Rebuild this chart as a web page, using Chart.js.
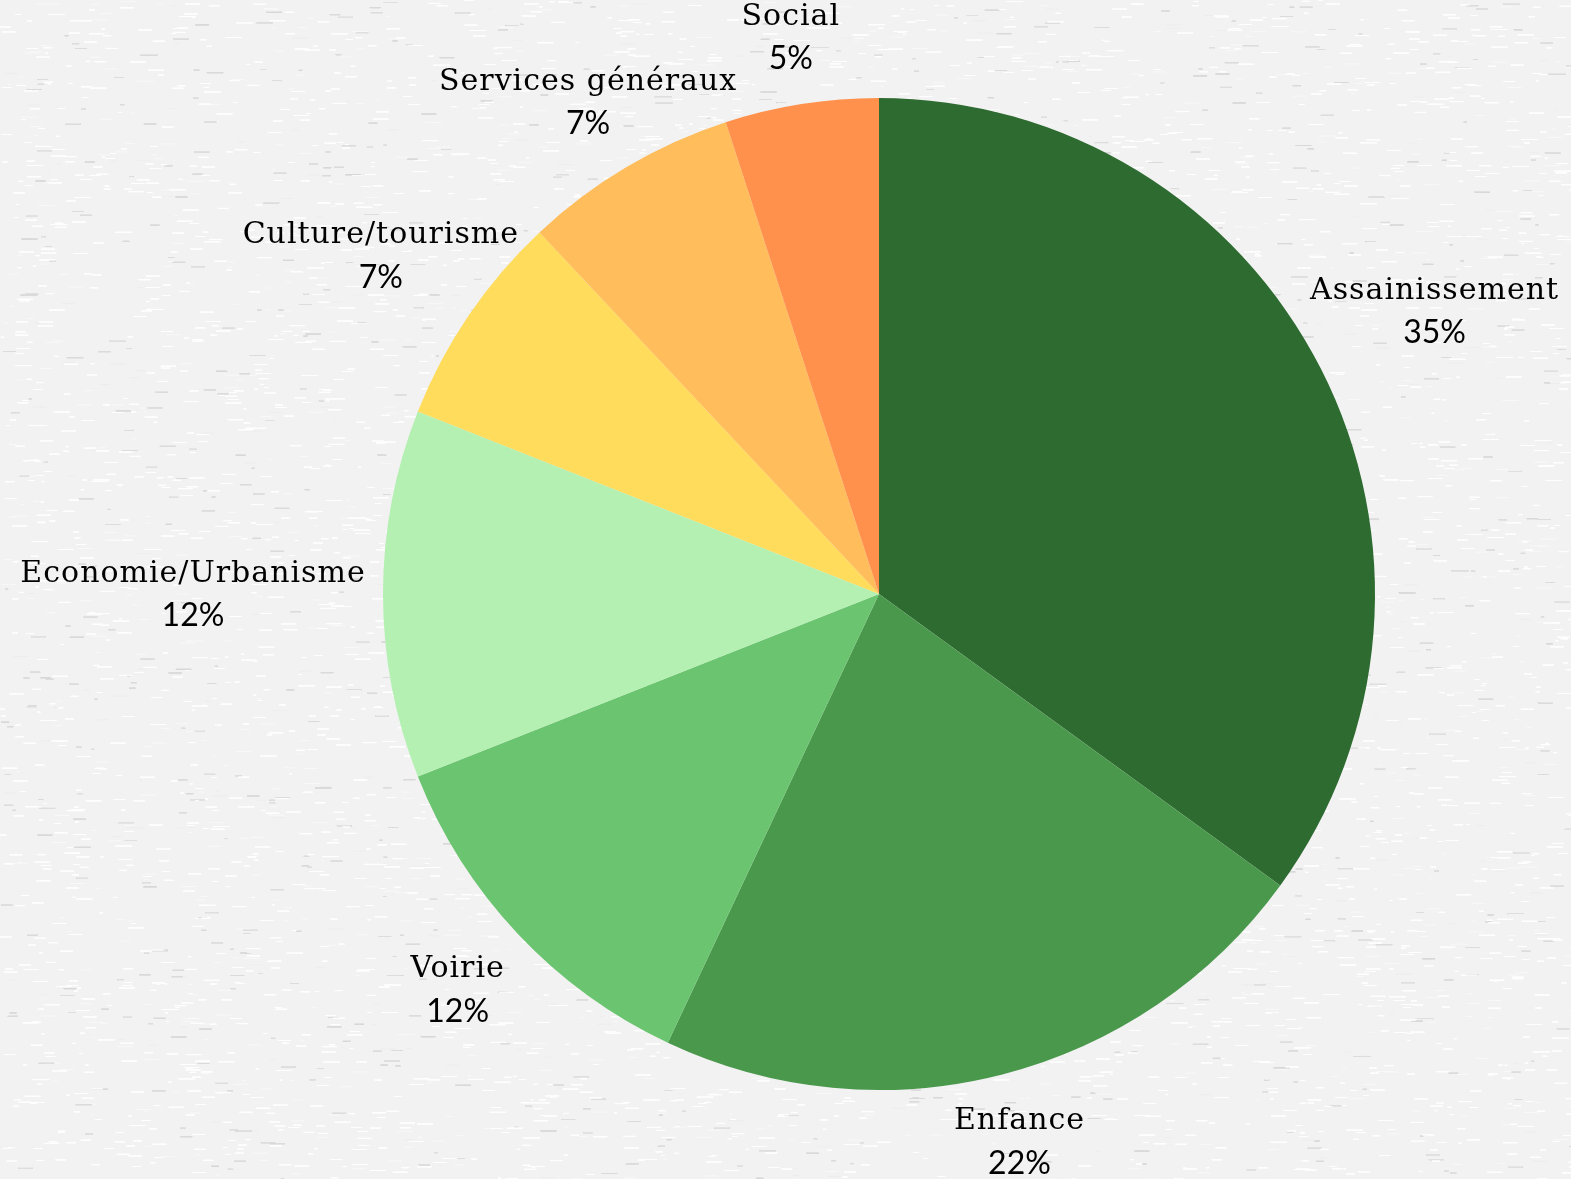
<!DOCTYPE html>
<html>
<head>
<meta charset="utf-8">
<script src="https://cdn.jsdelivr.net/npm/chart.js@4"></script>
<style>
html,body{margin:0;padding:0;background:#f3f3f3;}
#wrap{position:relative;width:1571px;height:1179px;}
#bg{position:absolute;left:0;top:0;}
#c{position:absolute;left:0;top:0;}
</style>
</head>
<body>
<div id="wrap">
<canvas id="bg" width="1571" height="1179"></canvas>
<canvas id="c" width="1571" height="1179"></canvas>
</div>
<script>
const categories = ["Assainissement","Enfance","Voirie","Economie/Urbanisme","Culture/tourisme","Services généraux","Social"];
const values = [35, 22, 12, 12, 7, 7, 5];
const percentLabels = ["35%","22%","12%","12%","7%","7%","5%"];
const colors = ["#2e6b30","#4a984c","#6bc46f","#b3f0b1","#ffdc5c","#ffbd5c","#ff914d"];

// paper texture background (deterministic)
(function(){
  const cv = document.getElementById('bg');
  const g = cv.getContext('2d');
  g.fillStyle = '#f2f2f2';
  g.fillRect(0,0,cv.width,cv.height);
  let s = 12345;
  function rnd(){ s = (s*1103515245 + 12345) & 0x7fffffff; return s/0x7fffffff; }
  for (let i=0;i<70000;i++){
    const x = rnd()*cv.width, y = rnd()*cv.height;
    const w = 3 + rnd()*14;
    const light = rnd() < 0.8;
    g.fillStyle = light ? 'rgba(255,255,255,0.5)' : 'rgba(220,220,220,0.2)';
    g.fillRect(x, y, w, 1);
  }
})();

const labelPlugin = {
  id: 'outLabels',
  afterDatasetsDraw(chart){
    const ctx = chart.ctx;
    const meta = chart.getDatasetMeta(0);
    ctx.save();
    ctx.fillStyle = '#000';
    ctx.textAlign = 'center';
    ctx.textBaseline = 'middle';
    const nameFont = '30px "DejaVu Serif"';
    const pctFont = '32px Lato';
    meta.data.forEach((arc, i) => {
      const p = arc.getProps(['x','y','startAngle','endAngle','outerRadius'], true);
      const mid = (p.startAngle + p.endAngle)/2;
      const dx = Math.cos(mid), dy = Math.sin(mid);
      ctx.font = nameFont;
      ctx.letterSpacing = '1px';
      const w1 = ctx.measureText(categories[i]).width;
      ctx.font = pctFont;
      ctx.letterSpacing = '0px';
      const w2 = ctx.measureText(percentLabels[i]).width;
      const hw = Math.max(w1,w2)/2, hh = 50;
      const t = Math.min(Math.abs(dx) > 1e-6 ? hw/Math.abs(dx) : 1e9, Math.abs(dy) > 1e-6 ? hh/Math.abs(dy) : 1e9);
      const r = p.outerRadius*1.035 + t;
      const cx = p.x + dx*r, cy = p.y + dy*r;
      ctx.font = nameFont;
      ctx.letterSpacing = '1px';
      ctx.fillText(categories[i], cx, cy - 20);
      ctx.font = pctFont;
      ctx.letterSpacing = '0px';
      ctx.fillText(percentLabels[i], cx, cy + 22);
    });
    ctx.restore();
  }
};

new Chart(document.getElementById('c'), {
  type: 'pie',
  data: {
    labels: categories,
    datasets: [{ data: values, backgroundColor: colors, borderWidth: 0 }]
  },
  options: {
    responsive: false,
    animation: false,
    layout: { padding: { left: 383, right: 196, top: 98, bottom: 89 } },
    plugins: { legend: { display: false }, tooltip: { enabled: false } }
  },
  plugins: [labelPlugin]
});
</script>
</body>
</html>
